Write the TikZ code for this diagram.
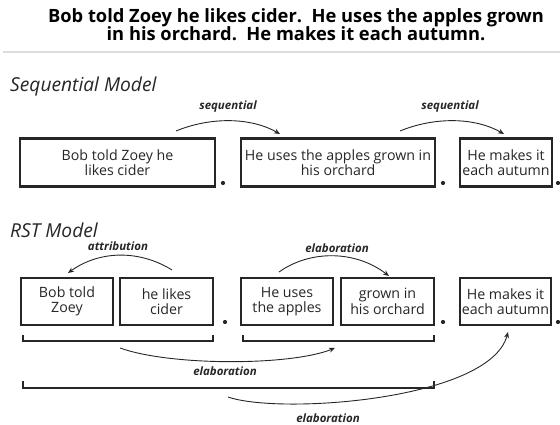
\documentclass[tikz,border=0pt]{standalone}
\usepackage{fontspec}
\setmainfont{Open Sans}
\usetikzlibrary{arrows.meta}
\definecolor{ink}{HTML}{262626}
\definecolor{rule}{HTML}{DDDDDD}
\tikzset{
  box/.style={draw=ink, line width=2.6pt, inner sep=0pt, align=center, text=ink,
    font=\fontsize{14.2}{15.5}\selectfont},
  seqbox/.style={box, minimum height=48pt},
  rstbox/.style={box, minimum height=47pt},
  rel/.style={draw=ink, line width=0.9pt, -{Stealth[length=6pt,width=5pt]}},
  rellabel/.style={text=ink, font=\fontsize{11.5}{12}\selectfont\bfseries\itshape, inner sep=0pt},
  bracket/.style={draw=ink, line width=1.5pt},
  dotmark/.style={circle, fill=ink, inner sep=0pt, minimum size=4.2pt},
  heading/.style={anchor=base west, text=ink, inner sep=0pt, font=\fontsize{19.2}{20}\selectfont\itshape},
  titletext/.style={anchor=base, text=black, inner sep=0pt, font=\fontsize{18.3}{18}\selectfont\bfseries},
}
\begin{document}
\begin{tikzpicture}[x=1pt,y=-1pt]
\useasboundingbox (0,0) rectangle (560,425);
% title
\node[titletext] (title1) at (296,22.6) {Bob told Zoey he likes cider.\ \ He uses the apples grown};
\node[titletext] (title2) at (296,41) {in his orchard.\ \ He makes it each autumn.};
\coordinate (ruleL) at (3,52);
\coordinate (ruleR) at (560,52);
\draw[rule, line width=2pt] (ruleL) -- (ruleR);

% Sequential model
\node[heading] (seqhead) at (10,92) {Sequential Model};
\node[seqbox, minimum width=195pt] (s1) at (117.5,162.5) {Bob told Zoey he\\likes cider};
\node[seqbox, minimum width=194pt] (s2) at (338,162.5) {He uses the apples grown in\\his orchard};
\node[seqbox, minimum width=92pt] (s3) at (506,162.5) {He makes it\\each autumn};
\node[dotmark] (sd1) at (223,183) {};
\node[dotmark] (sd2) at (443,183) {};
\node[dotmark] (sd3) at (558,183) {};

\coordinate (sa1) at (176,131);
\coordinate (sb1) at (280,134);
\coordinate (sa2) at (400,131);
\coordinate (sb2) at (504,134);
\draw[rel] (sa1) .. controls (210,117) and (250,117) .. (sb1);
\draw[rel] (sa2) .. controls (434,117) and (474,117) .. (sb2);
\node[rellabel] (sl1) at (228,107) {sequential};
\node[rellabel] (sl2) at (450,107) {sequential};

% RST model
\node[heading] (rsthead) at (10,237.5) {RST Model};
\node[rstbox, minimum width=92pt] (r1) at (67,301.5) {Bob told\\Zoey};
\node[rstbox, minimum width=93pt] (r2) at (166.5,301.5) {he likes\\cider};
\node[rstbox, minimum width=92pt] (r3) at (287,301.5) {He uses\\the apples};
\node[rstbox, minimum width=93pt] (r4) at (387.5,301.5) {grown in\\his orchard};
\node[rstbox, minimum width=91pt] (r5) at (505.5,301.5) {He makes it\\each autumn};
\node[dotmark] (rd1) at (225,322) {};
\node[dotmark] (rd2) at (443,322) {};
\node[dotmark] (rd3) at (558,322) {};

% top relations
\coordinate (ra1) at (172,270);
\coordinate (rb1) at (68,273);
\draw[rel] (ra1) .. controls (140,250) and (100,250) .. (rb1);
\node[rellabel] (rl1) at (118,246) {attribution};
\coordinate (ra2) at (279,272);
\coordinate (rb2) at (389,276);
\draw[rel] (ra2) .. controls (310,250) and (355,250) .. (rb2);
\node[rellabel] (rl2) at (337,248) {elaboration};

% brackets
\draw[bracket] (23,335) -- (23,341) -- (213,341) -- (213,335);
\draw[bracket] (243,335) -- (243,341) -- (434,341) -- (434,335);
\draw[bracket] (23,381) -- (23,388) -- (434,388) -- (434,381);

% bottom relations
\coordinate (ba1) at (120,348);
\coordinate (bb1) at (335,348);
\draw[rel] (ba1) .. controls (170,366) and (290,366) .. (bb1);
\node[rellabel] (bl1) at (225,371) {elaboration};
\coordinate (ba2) at (228,397);
\coordinate (bb2) at (508,332);
\draw[rel] (ba2) .. controls (280,415) and (490,400) .. (bb2);
\node[rellabel] (bl2) at (328,418.5) {elaboration};
\end{tikzpicture}
\end{document}
